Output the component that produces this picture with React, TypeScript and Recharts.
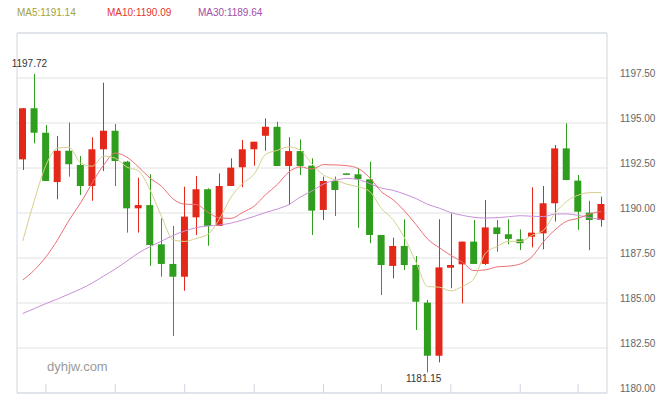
import React from 'react';
import {
  ComposedChart,
  Bar,
  Line,
  XAxis,
  YAxis,
  CartesianGrid,
  ReferenceArea,
  ReferenceDot,
  ReferenceLine,
} from 'recharts';

// ---- data ----
const opens = [1192.98, 1195.82, 1194.46, 1191.72, 1193.46, 1192.67, 1191.5, 1193.54, 1194.57, 1192.85, 1190.26, 1190.44, 1188.26, 1187.17, 1186.46, 1189.76, 1191.32, 1189.28, 1191.5, 1192.54, 1193.54, 1194.29, 1194.79, 1192.61, 1193.44, 1192.63, 1190.17, 1191.78, 1192.2, 1192.15, 1191.87, 1188.78, 1187.06, 1188.17, 1187.11, 1185.02, 1182.07, 1186.96, 1187.15, 1188.41, 1187.17, 1189.2, 1188.82, 1188.54, 1188.68, 1188.87, 1190.54, 1193.59, 1191.8, 1190.02, 1189.61];
const closes = [1195.82, 1194.46, 1191.78, 1193.46, 1192.71, 1191.5, 1193.54, 1194.57, 1192.89, 1190.26, 1190.44, 1188.22, 1187.17, 1186.46, 1189.8, 1191.32, 1189.28, 1191.5, 1192.52, 1193.54, 1193.96, 1194.79, 1192.61, 1193.44, 1192.61, 1190.13, 1191.78, 1191.28, 1192.2, 1191.89, 1188.78, 1187.11, 1188.17, 1187.11, 1185.07, 1182.07, 1186.98, 1187.11, 1188.41, 1187.17, 1189.2, 1188.83, 1188.56, 1188.32, 1188.91, 1190.54, 1193.59, 1191.83, 1190.07, 1189.61, 1190.5];
const highs = [1195.83, 1197.72, 1194.89, 1194.28, 1195.02, 1193.17, 1194.21, 1197.24, 1194.94, 1192.9, 1191.96, 1192.15, 1189.7, 1189.28, 1191.46, 1192.06, 1191.37, 1192.2, 1193.04, 1194.06, 1193.96, 1195.26, 1195.07, 1194.21, 1194.09, 1193.04, 1192.02, 1192.02, 1192.22, 1192.48, 1192.85, 1188.78, 1188.63, 1189.65, 1187.61, 1185.17, 1189.65, 1189.98, 1188.41, 1189.61, 1190.72, 1189.61, 1189.65, 1189.09, 1191.43, 1191.5, 1193.78, 1194.98, 1192.11, 1190.68, 1190.91];
const lows = [1192.39, 1193.87, 1191.78, 1190.76, 1192.02, 1191.0, 1190.68, 1192.33, 1191.5, 1188.91, 1188.91, 1187.06, 1186.46, 1183.17, 1185.68, 1188.78, 1188.18, 1189.28, 1191.5, 1191.43, 1192.63, 1193.46, 1192.61, 1190.44, 1192.11, 1188.78, 1189.61, 1189.83, 1192.18, 1189.18, 1188.32, 1185.44, 1186.37, 1186.83, 1183.5, 1181.15, 1181.7, 1185.82, 1184.98, 1187.17, 1187.11, 1187.85, 1188.26, 1187.94, 1188.09, 1187.98, 1189.52, 1191.83, 1189.06, 1187.94, 1189.24];
const ma5 = [1188.45, 1190.7, 1192.65, 1193.6, 1193.65, 1192.78, 1192.6, 1193.16, 1193.04, 1192.55, 1192.34, 1191.28, 1189.8, 1188.51, 1188.42, 1188.59, 1188.81, 1189.67, 1190.88, 1191.63, 1192.16, 1193.26, 1193.48, 1193.67, 1193.48, 1192.72, 1192.11, 1191.85, 1191.6, 1191.46, 1191.19, 1190.25, 1189.63, 1188.61, 1187.25, 1185.91, 1185.88, 1185.67, 1185.93, 1186.35, 1187.77, 1188.14, 1188.43, 1188.42, 1188.76, 1189.03, 1189.98, 1190.64, 1190.99, 1191.13, 1191.14];
const ma10 = [1186.28, 1186.83, 1187.56, 1188.5, 1189.6, 1190.56, 1191.67, 1192.67, 1193.33, 1193.1, 1192.56, 1191.94, 1191.48, 1190.78, 1190.49, 1190.47, 1190.04, 1189.73, 1189.7, 1190.03, 1190.38, 1191.03, 1191.58, 1192.28, 1192.56, 1192.44, 1192.69, 1192.67, 1192.63, 1192.47, 1191.95, 1191.18, 1190.74, 1190.11, 1189.35, 1188.55, 1188.07, 1187.65, 1187.27, 1186.8, 1186.84, 1187.01, 1187.05, 1187.17, 1187.56, 1188.4, 1189.06, 1189.54, 1189.7, 1189.95, 1190.09];
const ma30 = [1184.42, 1184.69, 1184.97, 1185.22, 1185.5, 1185.78, 1186.11, 1186.5, 1186.89, 1187.33, 1187.78, 1188.13, 1188.44, 1188.75, 1189.0, 1189.19, 1189.28, 1189.33, 1189.44, 1189.61, 1189.81, 1190.03, 1190.22, 1190.47, 1190.89, 1191.22, 1191.61, 1191.81, 1191.92, 1191.86, 1191.63, 1191.38, 1191.26, 1191.05, 1190.8, 1190.48, 1190.27, 1190.02, 1189.87, 1189.76, 1189.72, 1189.74, 1189.79, 1189.85, 1189.82, 1189.8, 1189.94, 1189.95, 1189.87, 1189.74, 1189.64];
const yTicks = [1180, 1182.5, 1185, 1187.5, 1190, 1192.5, 1195, 1197.5];
const xTicks = [2, 8, 14, 20, 26, 31, 37, 43, 48];
const legendItems = [
  { label: 'MA5:1191.14', color: '#a3a23a', left: 17 },
  { label: 'MA10:1190.09', color: '#e5352c', left: 107 },
  { label: 'MA30:1189.64', color: '#a24ea8', left: 198 },
];
const maxLabel = { idx: 1, value: 1197.72, text: '1197.72' };
const minLabel = { idx: 35, value: 1181.15, text: '1181.15' };

const data = opens.map((o, i) => ({
  idx: i,
  open: o,
  close: closes[i],
  high: highs[i],
  low: lows[i],
  ma5: ma5[i],
  ma10: ma10[i],
  ma30: ma30[i],
}));

const RED = '#e3281a';
const GREEN = '#2f9d1d';
const FONT = '"Liberation Sans", Arial, sans-serif';

const Candle = (props: any) => {
  const { x, y, width, height, payload } = props;
  if (!payload) return null;
  const { open, close, high, low } = payload;
  const color = close > open ? RED : GREEN;
  const range = high - low;
  const toY = (v: number) => (range === 0 ? y : y + ((high - v) / range) * height);
  const cx = Math.round(x + width / 2) + 0.5;
  const top = toY(Math.max(open, close));
  const bot = toY(Math.min(open, close));
  const bh = Math.max(1.5, bot - top);
  return (
    <g>
      <line x1={cx} x2={cx} y1={y} y2={y + height} stroke={color} strokeWidth={1} />
      <rect x={x} y={top} width={width} height={bh} fill={color} />
    </g>
  );
};

const YTick = (props: any) => {
  const { x, y, payload } = props;
  return (
    <text x={x + 5} y={y - 5} dy="0.355em" fill="#666" fontSize={10} fontFamily={FONT} textAnchor="start">
      {Number(payload.value).toFixed(2)}
    </text>
  );
};

const makeLabel = (text: string, dx: number, dy: number) => (props: any) => {
  const vb = props.viewBox || {};
  const cx = (vb.x ?? 0) + (vb.width ?? 0) / 2;
  const cy = (vb.y ?? 0) + (vb.height ?? 0) / 2;
  return (
    <text x={cx + dx} y={cy + dy} dy="0.355em" textAnchor="middle" fill="#333" fontSize={10} fontFamily={FONT}>
      {text}
    </text>
  );
};

export default function App() {
  return (
    <div style={{ position: 'absolute', left: 0, top: 0, width: 670, height: 400, background: '#fff' }}>
      <ComposedChart
        width={670}
        height={400}
        data={data}
        margin={{ top: 33, right: 0, bottom: 7, left: 17 }}
      >
        <CartesianGrid horizontal vertical={false} stroke="#e2e2e2" />
        <XAxis dataKey="idx" type="category" hide />
        <YAxis
          orientation="right"
          width={63}
          domain={[1180, 1200]}
          ticks={yTicks}
          interval={0}
          allowDataOverflow
          tickLine={false}
          axisLine={false}
          tick={<YTick />}
        />
        <ReferenceArea y1={1180} y2={1200} fill="none" stroke="#d0d8e3" strokeWidth={1} ifOverflow="visible" />
        {xTicks.map((t) => (
          <ReferenceLine
            key={t}
            segment={[
              { x: t, y: 1180 },
              { x: t, y: 1180.5 },
            ]}
            stroke="#cfd6e0"
            strokeWidth={1}
            ifOverflow="visible"
          />
        ))}
        <Line type="monotone" dataKey="ma30" stroke="#c98fd9" strokeWidth={1} dot={false} isAnimationActive={false} />
        <Line type="monotone" dataKey="ma10" stroke="#ec6f76" strokeWidth={1} dot={false} isAnimationActive={false} />
        <Line type="monotone" dataKey="ma5" stroke="#d6cf8e" strokeWidth={1} dot={false} isAnimationActive={false} />
        <Bar
          dataKey={(d: any) => [d.low, d.high]}
          barSize={7}
          shape={<Candle />}
          isAnimationActive={false}
        />
        <ReferenceDot
          x={maxLabel.idx}
          y={maxLabel.value}
          r={1}
          fill="none"
          stroke="none"
          label={{ content: makeLabel(maxLabel.text, -5, -11) }}
        />
        <ReferenceDot
          x={minLabel.idx}
          y={minLabel.value}
          r={1}
          fill="none"
          stroke="none"
          label={{ content: makeLabel(minLabel.text, -4, 6) }}
        />
      </ComposedChart>
      {legendItems.map((it) => (
        <div
          key={it.label}
          style={{
            position: 'absolute',
            left: it.left,
            top: 6,
            lineHeight: '14px',
            fontSize: 10,
            fontFamily: FONT,
            color: it.color,
            whiteSpace: 'nowrap',
          }}
        >
          {it.label}
        </div>
      ))}
      <div
        style={{
          position: 'absolute',
          left: 47,
          top: 358,
          lineHeight: '18px',
          fontSize: 13,
          fontFamily: FONT,
          color: '#9a9a9a',
          whiteSpace: 'nowrap',
        }}
      >
        dyhjw.com
      </div>
    </div>
  );
}
